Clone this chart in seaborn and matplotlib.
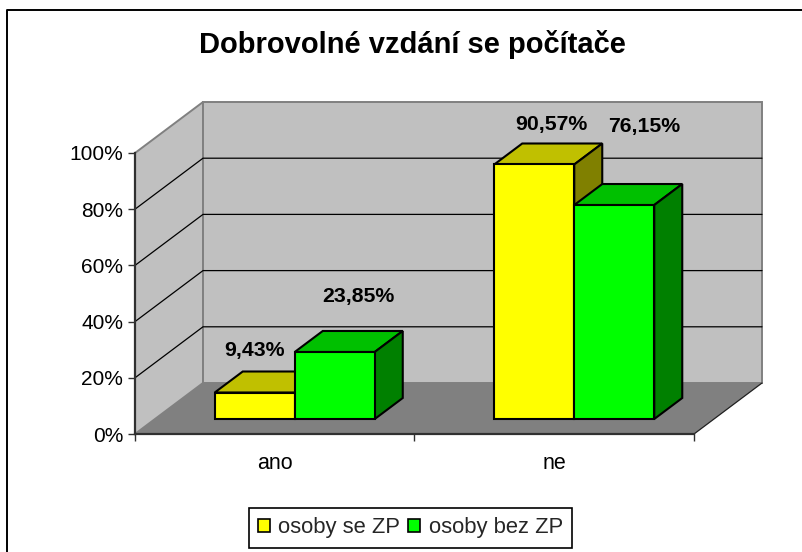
import pandas as pd
import matplotlib.pyplot as plt
import seaborn as sns
from matplotlib.patches import Patch, Polygon, Rectangle
from matplotlib.ticker import FixedLocator, PercentFormatter
from matplotlib.transforms import IdentityTransform

categories = ["ano", "ne"]
series = ["osoby se ZP", "osoby bez ZP"]
se_zp = [9.43, 90.57]
bez_zp = [23.85, 76.15]
y_ticks = [0, 20, 40, 60, 80, 100]
title = "Dobrovolné vzdání se počítače"

front_colors = ["#FFFF00", "#00FF00"]
top_colors = ["#C0C000", "#00C000"]
side_colors = ["#808000", "#008000"]

W, H = 803, 552
DEPTH = (68, 51)       # wall depth in pixels
BAR_SHIFT = (20, 15)   # bars stand a bit inside the floor
BAR_DEPTH = (28, 21)

sns.set_theme(style="white")
plt.rcParams["font.family"] = ["Liberation Sans", "DejaVu Sans"]

df = pd.DataFrame({
    "category": categories * 2,
    "series": [series[0]] * 2 + [series[1]] * 2,
    "value": se_zp + bez_zp,
})

fig = plt.figure(figsize=(W / 100, H / 100), dpi=100, facecolor="white")


def box(x0, y_top, x1, y_bottom):
    return [x0 / W, 1 - y_bottom / H, (x1 - x0) / W, (y_bottom - y_top) / H]


# background in pixel coordinates: frame, walls and floor
bg = fig.add_axes([0, 0, 1, 1], zorder=0)
bg.set_xlim(0, W)
bg.set_ylim(H, 0)
bg.axis("off")

x0, x1, y0, y100 = 135, 694, 434, 153
dx, dy = DEPTH
# only the top and left of the frame are inside the picture
bg.plot([7, 7, W], [H, 10, 10], color="black", lw=1.4)
bg.add_patch(Polygon([(x0, y0), (x0 + dx, y0 - dy), (x1 + dx, y0 - dy), (x1, y0)],
                     fc="#808080", ec="none"))
bg.add_patch(Polygon([(x0, y100), (x0 + dx, y100 - dy), (x0 + dx, y0 - dy), (x0, y0)],
                     fc="#C0C0C0", ec="#808080", lw=1.4))
bg.add_patch(Rectangle((x0 + dx, y100 - dy), x1 - x0, y0 - y100, fc="#C0C0C0",
                       ec="#808080", lw=1.4))
for v in y_ticks[1:-1]:
    y = y0 - (y0 - y100) * v / 100
    bg.plot([x0, x0 + dx, x1 + dx], [y, y - dy, y - dy], color="black", lw=0.9)
bg.plot([x1, x1 + dx], [y0, y0 - dy], color="#202020", lw=0.9)

# axis with the percent scale and the category labels
ax = fig.add_axes(box(x0, y100, x1, y0), zorder=1)
ax.patch.set_visible(False)
ax.set_xlim(-0.5, 1.5)
ax.set_ylim(0, 100)
for name in ["top", "right"]:
    ax.spines[name].set_visible(False)
for name in ["left", "bottom"]:
    ax.spines[name].set_linewidth(1.6)
    ax.spines[name].set_color("#303030")
ax.yaxis.set_major_locator(FixedLocator(y_ticks))
ax.yaxis.set_major_formatter(PercentFormatter(decimals=0))
ax.xaxis.set_major_locator(FixedLocator([-0.5, 0.5, 1.5]))
ax.xaxis.set_minor_locator(FixedLocator([0, 1]))
ax.set_xticklabels(["", "", ""])
ax.set_xticklabels(categories, minor=True)
ax.tick_params(axis="y", which="major", left=True, length=5, width=1.0, color="#303030",
               pad=3.5, labelsize=15, labelcolor="black")
ax.tick_params(axis="x", which="major", bottom=True, length=5, width=1.0, color="#303030")
ax.tick_params(axis="x", which="minor", bottom=False, length=0, pad=14, labelsize=15.5,
               labelcolor="black")

# bars live in a copy of the axis moved onto the floor
sx, sy = BAR_SHIFT
bars = fig.add_axes(box(x0 + sx, y100 - sy, x1 + sx, y0 - sy), zorder=2)
sns.barplot(data=df, x="category", y="value", hue="series", hue_order=series,
            order=categories, palette=front_colors, width=0.5725, gap=0,
            edgecolor="black", linewidth=1.5, saturation=1, legend=False, ax=bars)
bars.set_xlim(-0.5, 1.5)
bars.set_ylim(0, 100)
bars.axis("off")
fig.canvas.draw()

bx, by = BAR_DEPTH
for i, container in enumerate(bars.containers):
    for rect in container:
        left, top = bars.transData.transform((rect.get_x(), rect.get_height()))
        right, bottom = bars.transData.transform((rect.get_x() + rect.get_width(), 0))
        top_face = [(left, top), (right, top), (right + bx, top + by), (left + bx, top + by)]
        side_face = [(right, top), (right + bx, top + by), (right + bx, bottom + by), (right, bottom)]
        for pts, col in [(top_face, top_colors[i]), (side_face, side_colors[i])]:
            bars.add_patch(Polygon(pts, closed=True, fc=col, ec="black", lw=1.5, clip_on=False,
                                   transform=IdentityTransform(), zorder=2 + 2 * i))
        rect.set_zorder(3 + 2 * i)
        rect.set_clip_on(False)

# data labels, as pixel offsets from the top centre of each bar
label_offsets = [[(0, 42), (17, 40)], [(24, 55), (30, 79)]]
for i, container in enumerate(bars.containers):
    for rect, off in zip(container, label_offsets[i]):
        bars.annotate(f"{rect.get_height():.2f}%".replace(".", ","),
                      (rect.get_x() + rect.get_width() / 2, rect.get_height()),
                      xytext=(off[0] * 0.72, off[1] * 0.72), textcoords="offset points",
                      ha="center", va="center", fontsize=15.3, fontweight="bold",
                      color="black", zorder=10, annotation_clip=False)

fig.text(412.5 / W, 1 - 53 / H, title, ha="center", va="baseline", fontsize=21,
         fontweight="bold", color="black")

handles = [Patch(fc=c, ec="black", lw=1.2, label=s) for c, s in zip(front_colors, series)]
leg = fig.legend(handles=handles, loc="center", bbox_to_anchor=(410.5 / W, 1 - 528 / H),
                 ncol=2, fontsize=15.8, frameon=True, fancybox=False, framealpha=1,
                 edgecolor="black", handlelength=0.55, handleheight=0.55,
                 handletextpad=0.37, columnspacing=0.36, borderpad=0.44, borderaxespad=0)
leg.get_frame().set_linewidth(1.2)

fig.savefig("out.png", dpi=100)
